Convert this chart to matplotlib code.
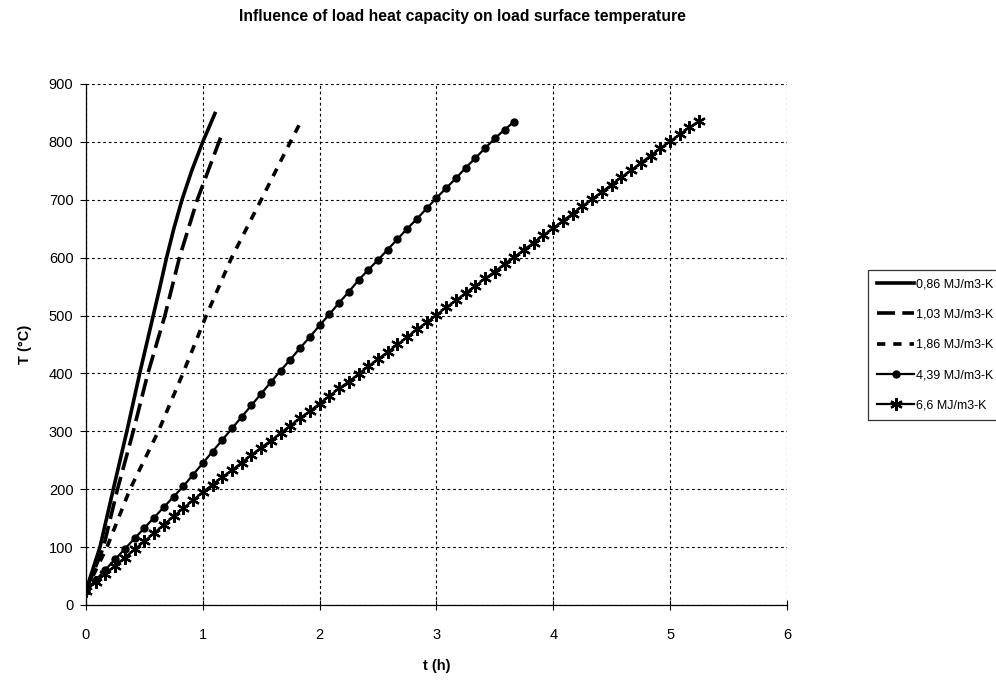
import matplotlib
matplotlib.use("Agg")
import matplotlib.pyplot as plt
import numpy as np

plt.rcParams['font.family'] = ['Liberation Sans', 'DejaVu Sans']

# === DATA ===
# steep curves: time (h) where the curve crosses each temperature
t_086 = [0, 0.12, 0.234, 0.35, 0.46, 0.576, 0.634, 0.69, 0.752, 0.822, 0.905, 1.0, 1.104]
T_086 = [25, 100, 200, 300, 400, 500, 550, 600, 650, 700, 750, 800, 849]

t_103 = [0, 0.15, 0.27, 0.405, 0.53, 0.676, 0.80, 0.953, 1.139, 1.162]
T_103 = [25, 100, 200, 300, 400, 500, 600, 700, 800, 812]

t_186 = [0, 0.18, 0.377, 0.62, 0.83, 1.03, 1.247, 1.50, 1.75, 1.84]
T_186 = [25, 100, 200, 300, 400, 500, 600, 700, 800, 835]

# marker curves: one point every 5 minutes
min_439 = list(range(0, 225, 5))
T_439 = [25, 43, 61, 79, 97, 115, 133, 151, 169, 187,
         205, 225, 245, 265, 285, 305, 325, 345, 365, 385,
         405, 424, 444, 463, 483, 502, 522, 541, 561, 579,
         596, 614, 632, 650, 667, 685, 703, 720, 737, 755,
         772, 789, 806, 821, 835]

min_66 = list(range(0, 320, 5))
T_66 = [25, 40, 54, 68, 82, 96, 110, 124, 139, 153, 167, 181, 195,
        208, 221, 233, 246, 259, 272, 284, 297, 310, 323, 335, 348,
        361, 374, 386, 399, 412, 425, 437, 450, 463, 476, 488, 501,
        514, 526, 539, 551, 564, 576, 589, 601, 614, 626, 639, 651,
        664, 676, 689, 701, 714, 726, 739, 751, 764, 776, 789, 801,
        813, 825, 836]

labels = ["0,86 MJ/m3-K", "1,03 MJ/m3-K", "1,86 MJ/m3-K",
          "4,39 MJ/m3-K", "6,6 MJ/m3-K"]

# === PLOT ===
fig = plt.figure(figsize=(9.96, 6.8), dpi=100)
ax = fig.add_axes([0.0863, 0.1103, 0.7037, 0.7662])

ax.plot(t_086, T_086, color='black', lw=2.6, label=labels[0])
ax.plot(t_103, T_103, color='black', lw=2.6, dashes=(5, 2), label=labels[1])
ax.plot(t_186, T_186, color='black', lw=2.6, dashes=(2.3, 2.2), label=labels[2])
ax.plot(np.array(min_439) / 60, T_439, color='black', lw=1.6,
        marker='o', ms=5, label=labels[3])
ax.plot(np.array(min_66) / 60, T_66, color='black', lw=1.6,
        marker=(6, 2, 0), ms=9, mew=1.6, label=labels[4])

ax.set_xlim(0, 6)
ax.set_ylim(0, 900)
ax.set_xticks(range(0, 7))
ax.set_yticks(range(0, 1000, 100))
ax.grid(True, color='black', linestyle=(0, (2.5, 2.5)), lw=0.8)
ax.set_axisbelow(True)

for s in ['top', 'right']:
    ax.spines[s].set_visible(False)
for s in ['left', 'bottom']:
    ax.spines[s].set_linewidth(0.9)

ax.tick_params(axis='x', direction='inout', length=7, width=0.8,
               labelsize=10.5, pad=13)
ax.tick_params(axis='y', direction='out', length=4, width=0.8,
               labelsize=10.5, pad=5)

ax.set_xlabel("t (h)", fontsize=10.5, fontweight='bold', labelpad=12)
ax.set_ylabel("T (°C)", fontsize=10.5, fontweight='bold', labelpad=12)

fig.text(0.464, 0.975, "Influence of load heat capacity on load surface temperature",
         ha='center', va='center', fontsize=11.3, fontweight='bold')

leg = ax.legend(loc='upper left', bbox_to_anchor=(0.8715, 0.603),
                bbox_transform=fig.transFigure, fontsize=9,
                frameon=True, fancybox=False, edgecolor='black',
                handlelength=3.0, handletextpad=0.1, labelspacing=1.45,
                borderpad=0.7, borderaxespad=0)
leg.get_frame().set_linewidth(0.9)

fig.savefig("out.png", dpi=100, facecolor='white')
